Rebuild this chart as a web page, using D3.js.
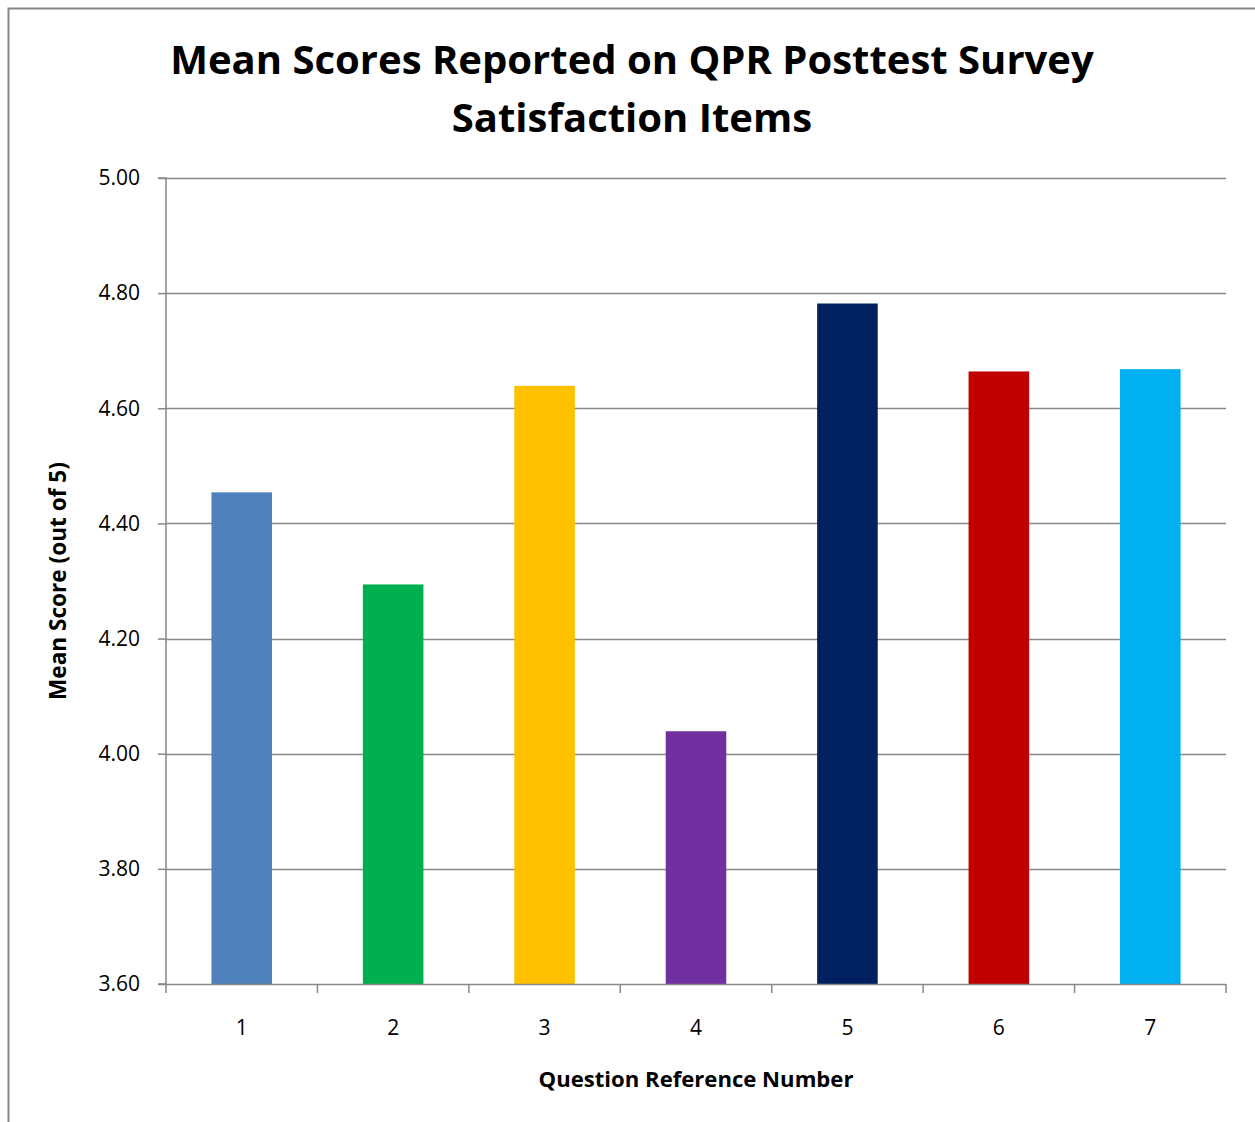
<!DOCTYPE html>
<html><head><meta charset="utf-8">
<script src="https://cdn.jsdelivr.net/npm/d3@7"></script>
<style>body{margin:0;background:#fff}svg{display:block}</style>
</head><body>
<script>
const categories = ["1","2","3","4","5","6","7"];
const values = [4.454, 4.294, 4.639, 4.039, 4.782, 4.664, 4.668];
const colors = ["#4F81BD","#00B050","#FFC000","#7030A0","#002060","#C00000","#00B0F0"];
const yTicks = [3.6,3.8,4.0,4.2,4.4,4.6,4.8,5.0];
const titleLines = ["Mean Scores Reported on QPR Posttest Survey","Satisfaction Items"];
const xTitle = "Question Reference Number";
const yTitle = "Mean Score (out of 5)";

const W=1255,H=1122;
const svg=d3.select("body").append("svg").attr("width",W).attr("height",H);
const font="'Open Sans', 'Noto Sans', sans-serif";
// frame
svg.append("path").attr("d",`M8.5,${H} V8.5 H${W}`).attr("fill","none").attr("stroke","#878787").attr("stroke-width",2);

const m={l:166,r:1226,t:178,b:984};
const x=d3.scaleBand().domain(categories).range([m.l,m.r]).paddingInner(0.6).paddingOuter(0.3);
const y=d3.scaleLinear().domain([3.6,5.0]).range([m.b,m.t]);

// gridlines
svg.append("g").selectAll("line").data(yTicks.slice(1)).join("line")
 .attr("x1",m.l).attr("x2",m.r).attr("y1",d=>Math.round(y(d))+0.5).attr("y2",d=>Math.round(y(d))+0.5)
 .attr("stroke","#878787").attr("stroke-width",1.5);

// bars
svg.append("g").selectAll("rect").data(values).join("rect")
 .attr("x",(d,i)=>x(categories[i])).attr("width",x.bandwidth())
 .attr("y",d=>y(d)).attr("height",d=>y(3.6)-y(d)).attr("fill",(d,i)=>colors[i]);

// y axis
const ya=svg.append("g").attr("transform",`translate(${m.l},0)`)
 .call(d3.axisLeft(y).tickValues(yTicks).tickFormat(d3.format(".2f")).tickSize(8).tickPadding(18));
ya.selectAll("path,line").attr("stroke","#878787").attr("stroke-width",1.5);
ya.select(".domain").attr("d",`M-8,${m.t}H0V${m.b}H-8`);
ya.selectAll("text").attr("font-family",font).attr("font-size",21).attr("fill","#000");

// x axis
const xEdge=d3.scaleLinear().domain([0,7]).range([m.l,m.r]);
const xa=svg.append("g").attr("transform",`translate(0,${m.b})`);
xa.append("line").attr("x1",m.l).attr("x2",m.r).attr("y1",0.5).attr("y2",0.5).attr("stroke","#878787").attr("stroke-width",1.5);
xa.selectAll("line.t").data(d3.range(8)).join("line").attr("class","t")
 .attr("x1",d=>xEdge(d)).attr("x2",d=>xEdge(d)).attr("y1",0).attr("y2",9).attr("stroke","#878787").attr("stroke-width",1.5);
xa.selectAll("text").data(categories).join("text")
 .attr("x",d=>x(d)+x.bandwidth()/2).attr("y",51).attr("text-anchor","middle")
 .attr("font-family",font).attr("font-size",21).text(d=>d);

// titles
const tt=svg.append("text").attr("text-anchor","middle").attr("font-family",font).attr("font-weight","bold").attr("font-size",38);
tt.append("tspan").attr("x",632).attr("y",74).text(titleLines[0]);
tt.append("tspan").attr("x",632).attr("y",132).text(titleLines[1]);
// fit width of first line to ~924px
const w0=tt.select("tspan").node().getComputedTextLength();
tt.attr("font-size",38*924/w0);

const xt=svg.append("text").attr("x",696).attr("y",1087).attr("text-anchor","middle")
 .attr("font-family",font).attr("font-weight","bold").attr("font-size",21).text(xTitle);
const xw=xt.node().getComputedTextLength(); xt.attr("font-size",21*315/xw);
const yt=svg.append("text").attr("transform","translate(66,581) rotate(-90)").attr("text-anchor","middle")
 .attr("font-family",font).attr("font-weight","bold").attr("font-size",21).text(yTitle);
const yw=yt.node().getComputedTextLength(); yt.attr("font-size",21*238/yw);
</script>
</body></html>
